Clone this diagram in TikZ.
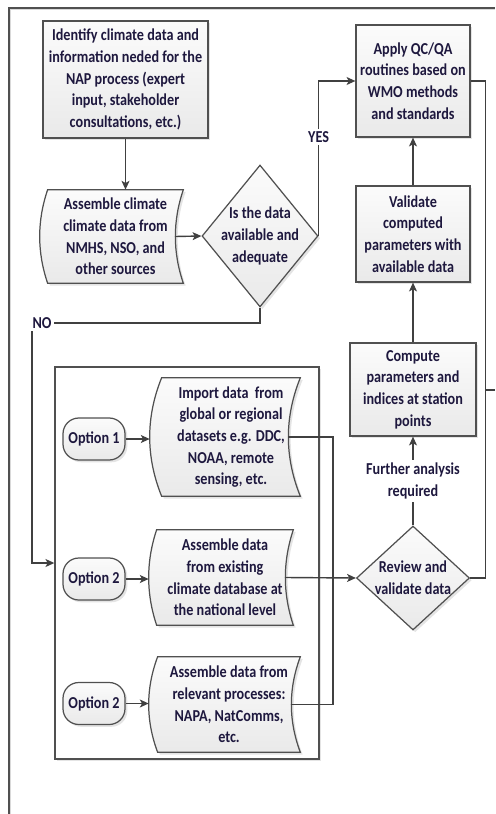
\documentclass[tikz,border=0pt]{standalone}
\usepackage{fontspec}
\setmainfont{Carlito}[FakeStretch=0.85]
\definecolor{inkblue}{RGB}{30,24,62}
\definecolor{edgegray}{RGB}{80,80,80}
\definecolor{linegray}{RGB}{64,64,64}
\usetikzlibrary{shapes.geometric, arrows.meta, positioning, calc, shadows, backgrounds}
\newcommand{\flowfont}{\fontsize{9.5}{12.3}\selectfont\bfseries}
% curved-sided data box drawn behind a named node
\newcommand{\datashape}[2]{%
  \begin{scope}[on background layer]
    \path[dshape] (#1.north west)
      .. controls ($(#1.north west)!1/3!(#1.south west)+(-1.33*#2,0)$)
      and ($(#1.north west)!2/3!(#1.south west)+(-1.33*#2,0)$) .. (#1.south west)
      -- (#1.south east)
      .. controls ($(#1.south east)!1/3!(#1.north east)+(-1.33*#2,0)$)
      and ($(#1.south east)!2/3!(#1.north east)+(-1.33*#2,0)$) .. (#1.north east)
      -- cycle;
  \end{scope}
  \coordinate (#1-l) at ($(#1.west)+(-#2,0)$);
  \coordinate (#1-r) at ($(#1.east)+(-#2,0)$);
}

\begin{document}
\begin{tikzpicture}[x=0.02cm, y=-0.02cm,
  every node/.style={font=\flowfont, text=inkblue, align=center},
  shd/.style={drop shadow={shadow xshift=1.3pt, shadow yshift=-1.3pt, fill=black!30, opacity=.35}},
  pbox/.style={draw=edgegray, line width=0.7pt, top color=gray!3, bottom color=gray!17, shd, inner sep=1pt},
  dbox/.style={inner sep=1pt},
  dshape/.style={draw=edgegray, line width=0.7pt, top color=gray!3, bottom color=gray!17, shd},
  dec/.style={diamond, draw=edgegray, line width=0.7pt, top color=gray!3, bottom color=gray!17, shd, inner sep=0pt},
  optbox/.style={draw=edgegray, line width=0.7pt, rounded corners=9pt, top color=gray!3, bottom color=gray!17, shd,
    minimum width=1.24cm, minimum height=0.84cm, inner sep=1pt},
  grp/.style={draw=edgegray, line width=0.8pt, fill=white, shd},
  lbl/.style={fill=white, inner sep=1.5pt},
  conn/.style={draw=linegray, line width=0.8pt},
  arr/.style={conn, -{Stealth[length=5pt, width=4.5pt, inset=1.2pt]}}
]
  \useasboundingbox (0,0) rectangle (495,814);
  \draw[gray!30, line width=1pt] (10.5,814) |- (495,9.5);
  \draw[edgegray, line width=0.8pt] (9,814) |- (495,8);

  \node[pbox, minimum width=3.3cm, minimum height=2.34cm] (ident) at (125.5,79.5)
    {Identify climate data and\\information neded for the\\NAP process (expert\\input, stakeholder\\consultations, etc.)};
  \node[dbox, minimum width=2.7cm, minimum height=1.86cm] (assemble) at (115.5,236.5)
    {Assemble climate\\climate data from\\NMHS, NSO, and\\other sources};
  \datashape{assemble}{8}
  \node[dec, minimum width=2.32cm, minimum height=2.84cm,
    label={[align=center]center:Is the data\\available and\\adequate}] (avail) at (260,236) {};

  \node[pbox, minimum width=2.28cm, minimum height=2.24cm] (qc) at (413,81)
    {Apply QC/QA\\routines based on\\WMO methods\\and standards};
  \node[pbox, minimum width=2.28cm, minimum height=1.92cm] (validate) at (413,234)
    {Validate\\computed\\parameters with\\available data};
  \node[pbox, minimum width=2.52cm, minimum height=1.86cm] (compute) at (413,389.5)
    {Compute\\parameters and\\indices at station\\points};
  \node[dec, minimum width=2.26cm, minimum height=2.08cm,
    label={[align=center]center:Review and\\validate data}] (review) at (413,578) {};

  % options group
  \begin{scope}[on background layer]
    \node[grp, minimum width=5.28cm, minimum height=7.84cm] (group) at (187,563) {};
  \end{scope}
  \node[optbox] (opt1) at (94,439) {Option 1};
  \node[optbox] (opt2) at (94,579) {Option 2};
  \node[optbox] (opt3) at (94,703.5) {Option 2};
  \node[dbox, minimum width=2.76cm, minimum height=2.36cm] (import) at (231,437)
    {Import data~ from\\global or regional\\datasets e.g. DDC,\\NOAA, remote\\sensing, etc.};
  \datashape{import}{12}
  \node[dbox, minimum width=2.72cm, minimum height=1.9cm] (existing) at (225,577.5)
    {Assemble data\\from existing\\climate database at\\the national level};
  \datashape{existing}{8}
  \node[dbox, minimum width=2.84cm, minimum height=1.9cm] (relevant) at (229,704.5)
    {Assemble data from\\relevant processes:\\NAPA, NatComms,\\etc.};
  \datashape{relevant}{9}

  \coordinate (nocorner) at (32,323);
  \coordinate (merge) at (333,577.5);
  \coordinate (loop) at ($(qc.east)+(15,0)$);
  \coordinate (offpage) at (495,390);

  \draw[arr] (ident.south) -- (ident.south |- assemble.north);
  \draw[arr] (assemble-r) -- (avail.west);
  \draw[arr] (avail.east) |- node[lbl, pos=0.32] (yes) {YES} (qc.west);
  \draw[arr] (avail.south) |- (nocorner) |- (group.west);
  \node[lbl] (no) at (42,323) {NO};
  \draw[arr] (opt1.east) -- (opt1.east -| import-l);
  \draw[arr] (opt2.east) -- (opt2.east -| existing-l);
  \draw[arr] (opt3.east) -- (opt3.east -| relevant-l);
  \draw[conn] (import-r) -| (merge) |- (relevant-r);
  \draw[arr] (existing-r) -- (review.west);
  \draw[arr] (review.north) -- node[lbl] (further) {Further analysis\\required} (compute.south);
  \draw[arr] (compute.north) -- (validate.south);
  \draw[arr] (validate.north) -- (qc.south);
  \draw[conn] (review.east) -| (loop) -- (qc.east);
  \draw[conn] (offpage -| loop) -- (offpage);
\end{tikzpicture}
\end{document}
